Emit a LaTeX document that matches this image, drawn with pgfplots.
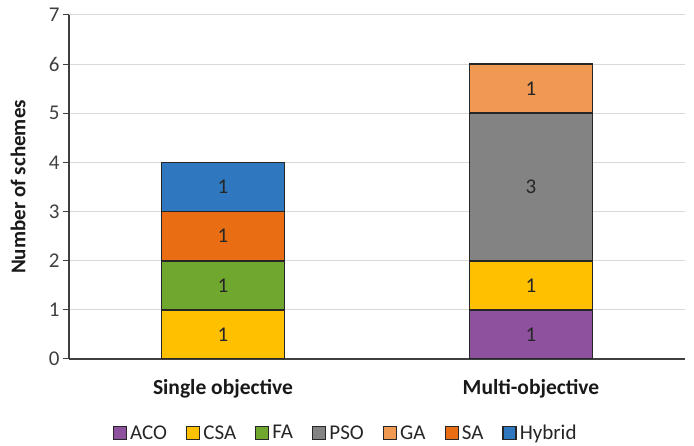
\documentclass[border=0pt]{standalone}
\usepackage{fontspec}
\setmainfont{Carlito}
\usepackage{pgfplots}
\pgfplotsset{compat=1.18}

\definecolor{cACO}{HTML}{8E519E}
\definecolor{cCSA}{HTML}{FFC000}
\definecolor{cFA}{HTML}{70A82F}
\definecolor{cPSO}{HTML}{838383}
\definecolor{cGA}{HTML}{F09952}
\definecolor{cSA}{HTML}{E96E13}
\definecolor{cHyb}{HTML}{2F78C0}
\definecolor{edge}{HTML}{262626}
\definecolor{gridc}{HTML}{D9D9D9}
\definecolor{axc}{HTML}{404040}
\definecolor{txt}{HTML}{404040}

\begin{document}
\begin{tikzpicture}
% fixed frame around the axis box
\path[use as bounding box] (-69pt,-87pt) rectangle (625pt,359pt);
\begin{axis}[
    at={(0pt,0pt)}, anchor=south west,
    scale only axis,
    width=616pt, height=344pt,
    ybar stacked, bar width=123pt,
    xmin=-0.5, xmax=1.5,
    ymin=0, ymax=7,
    xtick=data,
    xticklabels={Single objective, Multi-objective},
    ytick={0,1,...,7},
    axis x line*=bottom, axis y line*=left,
    axis line style={axc, line width=1.2pt},
    x axis line style={-}, y axis line style={-},
    xtick style={draw=none},
    ytick style={axc, line width=1pt},
    tick align=outside, major tick length=6pt,
    ymajorgrids, grid style={gridc, line width=1pt},
    /pgf/number format/assume math mode=true,
    tick label style={font=\fontsize{21}{25}\selectfont, text=txt},
    xticklabel style={font=\fontsize{21.5}{25}\selectfont\bfseries, text=black!90, yshift=-11pt},
    ylabel={Number of schemes},
    every axis y label/.style={at={(-51pt,172pt)}, rotate=90, anchor=center,
        font=\fontsize{21}{25}\selectfont\bfseries, text=black!90},
    every axis plot/.append style={draw=edge, line width=1.6pt},
    % segment values, written in the middle of each bar segment
    point meta=explicit symbolic,
    nodes near coords,
    every node near coord/.append style={anchor=center, font=\fontsize{21}{25}\selectfont, text=black!85},
    legend columns=7,
    legend style={draw=none, fill=none, at={(0.45,-74pt)}, anchor=center,
        font=\fontsize{21}{25}\selectfont, text=black!85,
        nodes={inner xsep=3pt},
        /tikz/every even column/.append style={column sep=16pt}},
    legend image code/.code={\draw[#1, line width=1.3pt] (0pt,-6.5pt) rectangle (13pt,6.5pt);},
]
% categories: 0 = single objective, 1 = multi-objective
\addplot[fill=cACO] coordinates {(0,0) [] (1,1) [1]};
\addplot[fill=cCSA] coordinates {(0,1) [1] (1,1) [1]};
\addplot[fill=cFA]  coordinates {(0,1) [1] (1,0) []};
\addplot[fill=cPSO] coordinates {(0,0) [] (1,3) [3]};
\addplot[fill=cGA]  coordinates {(0,0) [] (1,1) [1]};
\addplot[fill=cSA]  coordinates {(0,1) [1] (1,0) []};
\addplot[fill=cHyb] coordinates {(0,1) [1] (1,0) []};
\legend{ACO, CSA, FA, PSO, GA, SA, Hybrid}
\end{axis}
\end{tikzpicture}
\end{document}
